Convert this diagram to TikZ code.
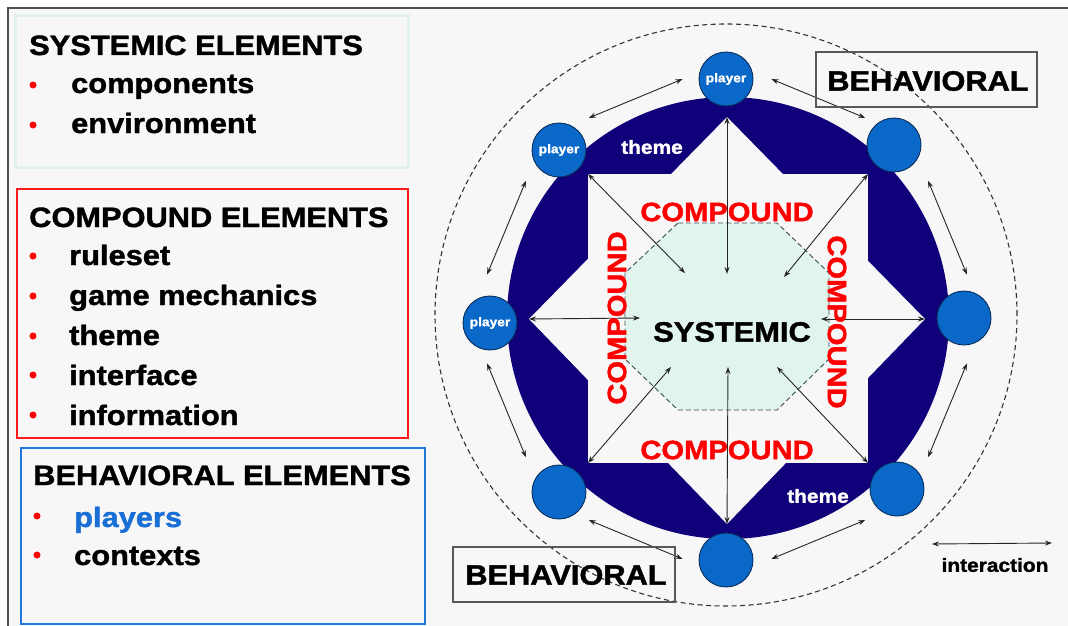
\documentclass[tikz,border=0pt]{standalone}
\usepackage{fontspec}
\setmainfont{Liberation Sans}[FakeStretch=1.1, BoldFeatures={FakeBold=1.4}]
\usetikzlibrary{arrows.meta,calc}
\definecolor{bg}{HTML}{F7F7F7}
\definecolor{navy}{HTML}{10007A}
\definecolor{pblue}{HTML}{0A68C8}
\definecolor{pdark}{HTML}{0A2F5C}
\definecolor{mint}{HTML}{E2F5EC}
\definecolor{mintframe}{HTML}{E2F2E9}
\definecolor{cred}{HTML}{FF0000}
\definecolor{bblue}{HTML}{2277D8}
\definecolor{plblue}{HTML}{1A6FD6}
\definecolor{framec}{HTML}{505050}
\definecolor{octline}{HTML}{3A4A5A}
\begin{document}
\begin{tikzpicture}[x=1pt,y=-1pt,
  big/.style={font=\fontsize{28}{28}\selectfont\bfseries, inner sep=0pt},
  item/.style={big, anchor=base west},
  bul/.style={circle, fill=red, inner sep=0pt, minimum size=7pt},
  cmp/.style={font=\fontsize{26.5}{26.5}\selectfont\bfseries, text=cred, inner sep=0pt},
  player/.style={circle, draw=pdark, line width=0.9pt, fill=pblue, minimum size=54pt, inner sep=0pt, text=white, font=\fontsize{12.5}{12.5}\selectfont\bfseries},
  arr/.style={{Stealth[length=7pt,width=5pt]}-{Stealth[length=7pt,width=5pt]}, line width=0.9pt, draw=black!85},
  behbox/.style={draw=black!65, line width=1.4pt},
  whitetxt/.style={text=white, font=\fontsize{19}{19}\selectfont\bfseries, inner sep=0pt}
]
\useasboundingbox (0,0) rectangle (1068,626);
% background and frame
\fill[white] (0,0) rectangle (1068,626);
\fill[bg] (8,8) rectangle (1068,626);
\draw[framec, line width=2pt] (8,626) -- (8,8) -- (1068,8);

% ---------- left boxes ----------
\draw[mintframe, line width=3pt] (15.5,15.5) rectangle (408.5,167.5);
\node[item] (sysh) at (29,55) {SYSTEMIC ELEMENTS};
\node[bul] (b1) at (33,85) {};
\node[item] (s1) at (71,93) {components};
\node[bul] (b2) at (33,125) {};
\node[item] (s2) at (71,133) {environment};

\draw[red!90!white, line width=2pt] (17,189) rectangle (408,438);
\node[item] (comh) at (29,227) {COMPOUND ELEMENTS};
\node[bul] (b3) at (33,256) {};
\node[item] (c1) at (69,265) {ruleset};
\node[bul] (b4) at (33,296) {};
\node[item] (c2) at (69,305) {game mechanics};
\node[bul] (b5) at (33,336) {};
\node[item] (c3) at (69,345) {theme};
\node[bul] (b6) at (33,375) {};
\node[item] (c4) at (69,385) {interface};
\node[bul] (b7) at (33,415) {};
\node[item] (c5) at (69,425) {information};

\draw[bblue, line width=2pt] (21,448) rectangle (425,624);
\node[item] (behh) at (33,485) {BEHAVIORAL ELEMENTS};
\node[bul] (b8) at (37,516) {};
\node[item, text=plblue] (e1) at (74,527) {players};
\node[bul] (b9) at (37,555) {};
\node[item] (e2) at (74,565) {contexts};

% ---------- diagram ----------
\coordinate (C) at (727,319);
\fill[navy] (728,318) circle[radius=221pt];
% star = square + diamond
\fill[bg] (588,174) rectangle (868,463);
\fill[bg] (727,117) -- (925,319) -- (727,524) -- (529,319) -- cycle;
% octagon
\filldraw[fill=mint, draw=octline, dashed, dash pattern=on 5pt off 3pt, line width=0.9pt]
  (678,223) -- (777,223) -- (829,273) -- (829,359) -- (777,410) -- (678,410) -- (625,359) -- (625,273) -- cycle;

% star vertices and inner targets
\coordinate (sT) at (727,117);
\coordinate (sUR) at (868,174);
\coordinate (sR) at (925,319);
\coordinate (sLR) at (868,463);
\coordinate (sB) at (727,524);
\coordinate (sLL) at (588,463);
\coordinate (sL) at (529,319);
\coordinate (sUL) at (588,174);
\coordinate (iT) at (727,274);
\coordinate (iUR) at (784,277);
\coordinate (iR) at (821,319);
\coordinate (iLR) at (777,367);
\coordinate (iB) at (728,367);
\coordinate (iLL) at (671,367);
\coordinate (iL) at (640,318);
\coordinate (iUL) at (685,273);
\foreach \p in {T,UR,R,LR,B,LL,L,UL}
  \draw[arr] (s\p) -- (i\p);

% labels
\node[cmp] (cT) at (727,212) {COMPOUND};
\node[cmp] (cB) at (727,450) {COMPOUND};
\node[cmp, rotate=90] (cL) at (617,318) {COMPOUND};
\node[cmp, rotate=-90] (cR) at (837,322) {COMPOUND};
\node[big] (sys) at (732,332) {SYSTEMIC};
\node[whitetxt] (th1) at (652,147) {theme};
\node[whitetxt] (th2) at (818,496) {theme};

% players
\node[player] (pT) at (726,79) {player};
\node[player] (pUR) at (894,145) {};
\node[player] (pR) at (964,318) {};
\node[player] (pLR) at (897,489) {};
\node[player] (pB) at (726,560) {};
\node[player] (pLL) at (559,492) {};
\node[player] (pL) at (490,323) {player};
\node[player] (pUL) at (559,150) {player};

% interactions between neighbouring players
\foreach \a in {0,45,...,315}
  \draw[arr] ($(C)+(\a+10.5:244)$) -- ($(C)+(\a+34.5:244)$);

% outer dashed circle
\draw[black!80, dash pattern=on 5pt off 3.5pt, line width=1.1pt] (726,315) circle[radius=291pt];

% behavioral labels
\draw[behbox] (816,52) rectangle (1037,107);
\node[big] (bh1) at (928,81) {BEHAVIORAL};
\draw[behbox] (453,547) rectangle (675,602);
\node[big] (bh2) at (566,575) {BEHAVIORAL};

% legend
\coordinate (lg1) at (932,544);
\coordinate (lg2) at (1052,543);
\draw[arr] (lg1) -- (lg2);
\node[font=\fontsize{19}{19}\selectfont\bfseries, inner sep=0pt] (lgt) at (995,565) {interaction};
\end{tikzpicture}
\end{document}
